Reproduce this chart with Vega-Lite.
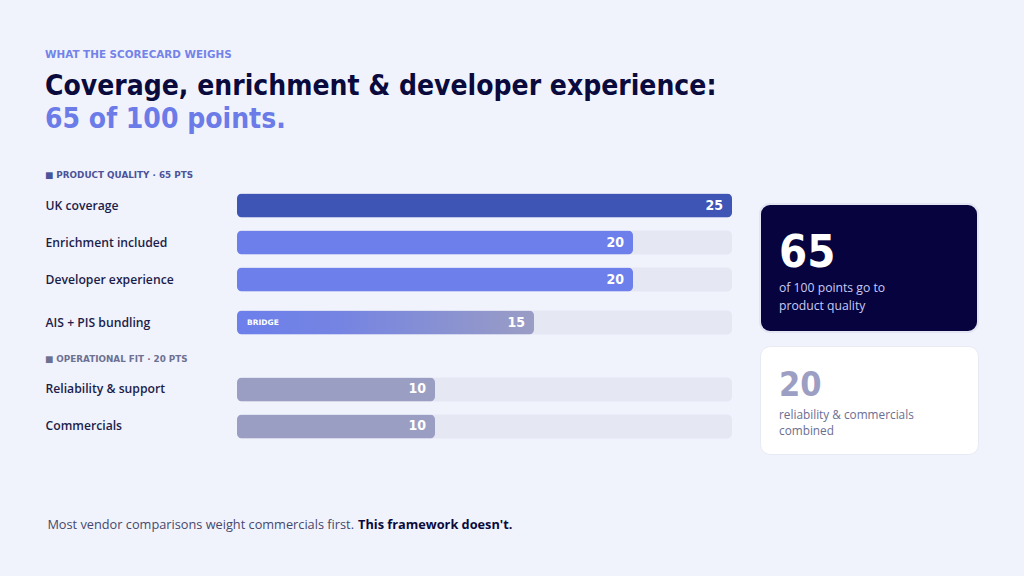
{
  "$schema": "https://vega.github.io/schema/vega-lite/v6.json",
  "background": "#f1f3fc",
  "padding": {"left": 45, "top": 49, "right": 47, "bottom": 46},
  "config": {
    "view": {"stroke": null},
    "font": "Open Sans",
    "axis": {"domain": false, "ticks": false, "grid": false, "tickSize": 0}
  },
  "datasets": {
    "criteria": [
      {"criterion": "UK coverage", "group": "Product quality", "points": 25},
      {"criterion": "Enrichment included", "group": "Product quality", "points": 20},
      {"criterion": "Developer experience", "group": "Product quality", "points": 20},
      {"criterion": "AIS + PIS bundling", "group": "Bridge", "points": 15, "tag": "BRIDGE"},
      {"criterion": "Reliability & support", "group": "Operational fit", "points": 10},
      {"criterion": "Commercials", "group": "Operational fit", "points": 10}
    ],
    "totals": [
      {"group": "Product quality", "points": 65, "caption": "of 100 points go to\nproduct quality"},
      {"group": "Operational fit", "points": 20, "caption": "reliability & commercials\ncombined"}
    ],
    "footnote": [
      {"part": "lead", "text": "Most vendor comparisons weight commercials first."},
      {"part": "close", "text": "This framework doesn't."}
    ]
  },
  "title": {
    "text": "WHAT THE SCORECARD WEIGHS",
    "anchor": "start",
    "frame": "bounds",
    "font": "DejaVu Sans",
    "fontWeight": "bold",
    "fontSize": 10.4,
    "color": "#7383e9",
    "offset": 13
  },
  "spacing": 27,
  "hconcat": [
    {
      "title": {
        "text": "Coverage, enrichment & developer experience:",
        "subtitle": "65 of 100 points.",
        "anchor": "start",
        "frame": "bounds",
        "font": "DejaVu Sans Condensed, DejaVu Sans, sans-serif",
        "fontWeight": "bold",
        "fontSize": 28,
        "color": "#0a0a3c",
        "subtitleFont": "DejaVu Sans Condensed, DejaVu Sans, sans-serif",
        "subtitleFontWeight": "bold",
        "subtitleFontSize": 28,
        "subtitleColor": "#6b7be8",
        "subtitlePadding": 5,
        "offset": 37
      },
      "bounds": "flush",
      "spacing": 6,
      "vconcat": [
        {
          "width": 495,
          "height": 111,
          "title": {
            "text": "■   PRODUCT QUALITY · 65 PTS",
            "anchor": "start",
            "frame": "bounds",
            "font": "DejaVu Sans",
            "fontWeight": "bold",
            "fontSize": 8.8,
            "color": "#4b5399",
            "baseline": "alphabetic",
            "offset": 0
          },
          "data": {"name": "criteria"},
          "transform": [{"filter": "datum.group === 'Product quality'"}],
          "encoding": {
            "y": {
              "field": "criterion",
              "type": "nominal",
              "sort": null,
              "scale": {"paddingInner": 0.35, "paddingOuter": 0.175},
              "axis": {"title": null, "labelAlign": "left", "labelPadding": 192, "labelFontWeight": 600, "labelFontSize": 12.2, "labelColor": "#1c1d4a"}
            }
          },
          "layer": [
            {
              "mark": {"type": "bar", "color": "#e5e7f3", "cornerRadius": 5},
              "encoding": {"x": {"datum": 25, "type": "quantitative", "scale": {"domain": [0, 25], "nice": false}, "axis": null}}
            },
            {
              "mark": {"type": "bar", "cornerRadius": 5},
              "encoding": {
                "x": {"field": "points", "type": "quantitative", "scale": {"domain": [0, 25], "nice": false}, "axis": null},
                "color": {
                  "condition": {"test": "datum.points >= 25", "value": "#3f55b5"},
                  "value": "#6c7feb"
                }
              }
            },
            {
              "mark": {"type": "text", "align": "right", "baseline": "middle", "dx": -9, "font": "DejaVu Sans Condensed, DejaVu Sans, sans-serif", "fontWeight": "bold", "fontSize": 14, "color": "#ffffff"},
              "encoding": {"x": {"field": "points", "type": "quantitative", "scale": {"domain": [0, 25], "nice": false}, "axis": null}, "text": {"field": "points"}}
            }
          ]
        },
        {
          "width": 495,
          "height": 37,
          "data": {"name": "criteria"},
          "transform": [{"filter": "datum.group === 'Bridge'"}],
          "encoding": {
            "y": {
              "field": "criterion",
              "type": "nominal",
              "sort": null,
              "scale": {"paddingInner": 0.35, "paddingOuter": 0.175},
              "axis": {"title": null, "labelAlign": "left", "labelPadding": 192, "labelFontWeight": 600, "labelFontSize": 12.2, "labelColor": "#1c1d4a"}
            }
          },
          "layer": [
            {
              "mark": {"type": "bar", "color": "#e5e7f3", "cornerRadius": 5},
              "encoding": {"x": {"datum": 25, "type": "quantitative", "scale": {"domain": [0, 25], "nice": false}, "axis": null}}
            },
            {
              "mark": {
                "type": "bar",
                "cornerRadius": 5,
                "color": {
                  "gradient": "linear",
                  "x1": 0, "x2": 1, "y1": 0, "y2": 0,
                  "stops": [
                    {"offset": 0, "color": "#6c7feb"},
                    {"offset": 0.35, "color": "#7584e2"},
                    {"offset": 1, "color": "#9a9dc4"}
                  ]
                }
              },
              "encoding": {"x": {"field": "points", "type": "quantitative", "scale": {"domain": [0, 25], "nice": false}, "axis": null}}
            },
            {
              "mark": {"type": "text", "align": "left", "baseline": "middle", "dx": 10, "font": "DejaVu Sans", "fontWeight": "bold", "fontSize": 7.5, "color": "#ffffff"},
              "encoding": {"x": {"datum": 0, "type": "quantitative", "scale": {"domain": [0, 25], "nice": false}, "axis": null}, "text": {"field": "tag"}}
            },
            {
              "mark": {"type": "text", "align": "right", "baseline": "middle", "dx": -9, "font": "DejaVu Sans Condensed, DejaVu Sans, sans-serif", "fontWeight": "bold", "fontSize": 14, "color": "#ffffff"},
              "encoding": {"x": {"field": "points", "type": "quantitative", "scale": {"domain": [0, 25], "nice": false}, "axis": null}, "text": {"field": "points"}}
            }
          ]
        },
        {
          "width": 495,
          "height": 98,
          "title": {
            "text": "■   OPERATIONAL FIT · 20 PTS",
            "anchor": "start",
            "frame": "bounds",
            "font": "DejaVu Sans",
            "fontWeight": "bold",
            "fontSize": 8.8,
            "color": "#6d7092",
            "baseline": "alphabetic",
            "offset": -23.5
          },
          "data": {"name": "criteria"},
          "transform": [{"filter": "datum.group === 'Operational fit'"}],
          "encoding": {
            "y": {
              "field": "criterion",
              "type": "nominal",
              "sort": null,
              "scale": {"paddingInner": 0.35, "paddingOuter": 0.4993, "align": 0.8246},
              "axis": {"title": null, "labelAlign": "left", "labelPadding": 192, "labelFontWeight": 600, "labelFontSize": 12.2, "labelColor": "#1c1d4a"}
            }
          },
          "layer": [
            {
              "mark": {"type": "bar", "color": "#e5e7f3", "cornerRadius": 5},
              "encoding": {"x": {"datum": 25, "type": "quantitative", "scale": {"domain": [0, 25], "nice": false}, "axis": null}}
            },
            {
              "mark": {"type": "bar", "cornerRadius": 5, "color": "#9b9ec3"},
              "encoding": {"x": {"field": "points", "type": "quantitative", "scale": {"domain": [0, 25], "nice": false}, "axis": null}}
            },
            {
              "mark": {"type": "text", "align": "right", "baseline": "middle", "dx": -9, "font": "DejaVu Sans Condensed, DejaVu Sans, sans-serif", "fontWeight": "bold", "fontSize": 14, "color": "#ffffff"},
              "encoding": {"x": {"field": "points", "type": "quantitative", "scale": {"domain": [0, 25], "nice": false}, "axis": null}, "text": {"field": "points"}}
            }
          ]
        },
        {
          "width": 238,
          "height": 78,
          "data": {"name": "footnote"},
          "layer": [
            {
              "transform": [{"filter": "datum.part === 'lead'"}],
              "mark": {"type": "text", "align": "right", "baseline": "alphabetic", "y": "height", "dx": -2, "fontSize": 12.75, "color": "#45486d"},
              "encoding": {"text": {"field": "text"}}
            },
            {
              "transform": [{"filter": "datum.part === 'close'"}],
              "mark": {"type": "text", "align": "left", "baseline": "alphabetic", "y": "height", "dx": 2, "fontSize": 12.75, "fontWeight": "bold", "color": "#0a0a3c"},
              "encoding": {"text": {"field": "text"}}
            }
          ]
        }
      ]
    },
    {
      "bounds": "flush",
      "spacing": 14,
      "vconcat": [
        {
          "width": 218,
          "height": 3,
          "data": {"values": [{}]},
          "mark": {"type": "point", "opacity": 0}
        },
        {
          "width": 218,
          "height": 128,
          "view": {"fill": "#06033e", "cornerRadius": 10, "stroke": "#e3e5f3", "strokeWidth": 2},
          "data": {"name": "totals"},
          "transform": [{"filter": "datum.group === 'Product quality'"}],
          "layer": [
            {
              "mark": {"type": "text", "align": "left", "baseline": "alphabetic", "dx": -90, "dy": -1.5, "font": "DejaVu Sans Condensed, DejaVu Sans, sans-serif", "fontWeight": "bold", "fontSize": 45, "color": "#ffffff"},
              "encoding": {"text": {"field": "points"}}
            },
            {
              "mark": {"type": "text", "align": "left", "baseline": "alphabetic", "dx": -90, "dy": 23.5, "lineBreak": "\n", "lineHeight": 18, "fontSize": 12.2, "color": "#c9cbf4"},
              "encoding": {"text": {"field": "caption"}}
            }
          ]
        },
        {
          "width": 218,
          "height": 108,
          "view": {"fill": "#ffffff", "cornerRadius": 10, "stroke": "#e7e9f4"},
          "data": {"name": "totals"},
          "transform": [{"filter": "datum.group === 'Operational fit'"}],
          "layer": [
            {
              "mark": {"type": "text", "align": "left", "baseline": "alphabetic", "dx": -90, "dy": -4.5, "font": "DejaVu Sans Condensed, DejaVu Sans, sans-serif", "fontWeight": "bold", "fontSize": 34, "color": "#9c9ec3"},
              "encoding": {"text": {"field": "points"}}
            },
            {
              "mark": {"type": "text", "align": "left", "baseline": "alphabetic", "dx": -90, "dy": 19, "lineBreak": "\n", "lineHeight": 16, "fontSize": 11.8, "color": "#6b6e90"},
              "encoding": {"text": {"field": "caption"}}
            }
          ]
        }
      ]
    }
  ]
}
